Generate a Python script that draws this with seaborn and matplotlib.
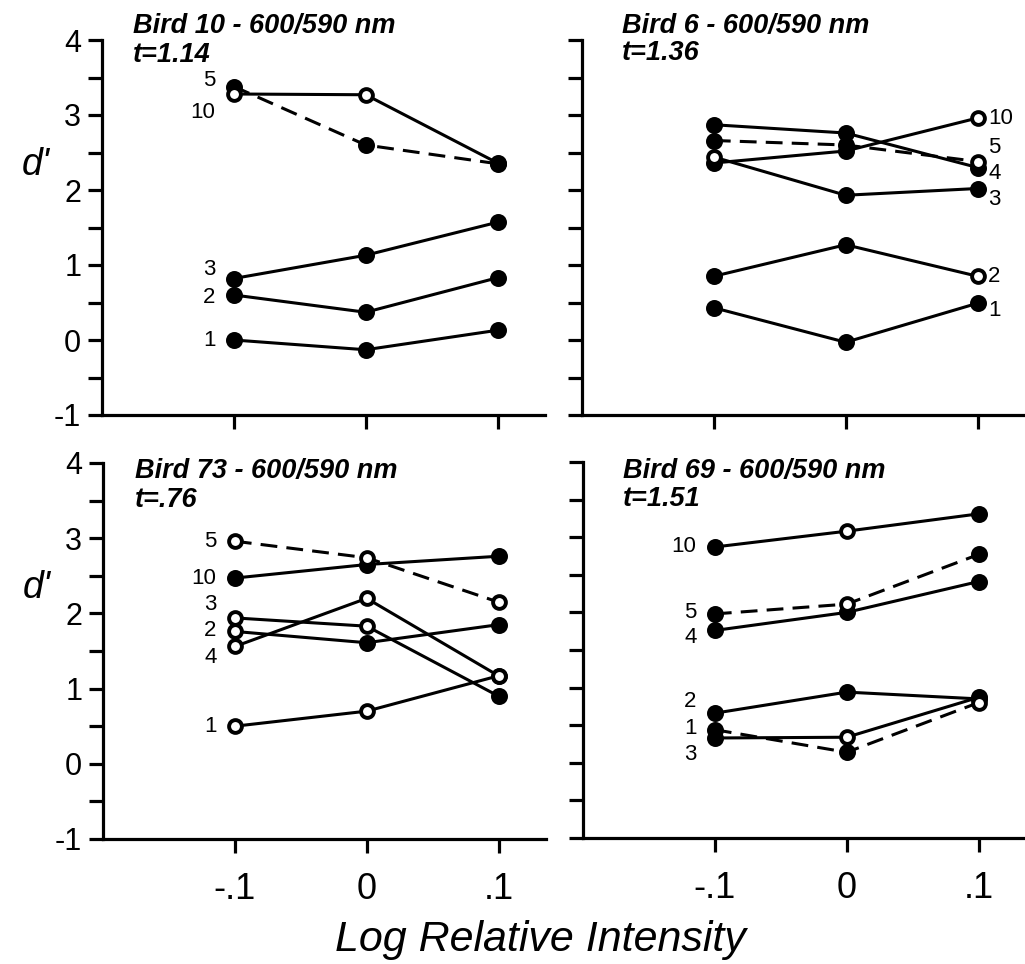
import matplotlib
matplotlib.use("Agg")
import matplotlib.pyplot as plt
import numpy as np
import pandas as pd
import seaborn as sns

# ---- data -------------------------------------------------------------
x_levels = [-0.1, 0.0, 0.1]
x_ticklabels = ["-.1", "0", ".1"]
y_ticks = [-1, 0, 1, 2, 3, 4]
y_ticklabels = ["-1", "0", "1", "2", "3", "4"]

titles = ["Bird 10 - 600/590 nm", "Bird 6 - 600/590 nm",
          "Bird 73 - 600/590 nm", "Bird 69 - 600/590 nm"]
t_values = ["t=1.14", "t=1.36", "t=.76", "t=1.51"]

# d' per session block (1, 2, 3, 4, 5, 10) at the three intensities
bird10 = {"1": [0.00, -0.13, 0.13], "2": [0.60, 0.37, 0.83],
          "3": [0.82, 1.13, 1.57], "5": [3.38, 2.60, 2.35],
          "10": [3.28, 3.27, 2.36]}
bird6 = {"1": [0.43, -0.03, 0.49], "2": [0.85, 1.27, 0.85],
         "3": [2.44, 1.93, 2.02], "4": [2.87, 2.76, 2.30],
         "5": [2.66, 2.60, 2.38], "10": [2.36, 2.52, 2.96]}
bird73 = {"1": [0.50, 0.70, 1.17], "2": [1.76, 1.61, 1.85],
          "3": [1.94, 1.83, 0.90], "4": [1.56, 2.20, 1.17],
          "5": [2.96, 2.74, 2.15], "10": [2.47, 2.65, 2.76]}
bird69 = {"1": [0.44, 0.14, 0.80], "2": [0.66, 0.94, 0.85],
          "3": [0.33, 0.34, 0.87], "4": [1.76, 2.00, 2.41],
          "5": [1.98, 2.11, 2.77], "10": [2.87, 3.08, 3.31]}

# filled (1) or open (0) symbol for each point
bird10_filled = {"1": [1, 1, 1], "2": [1, 1, 1], "3": [1, 1, 1],
                 "5": [1, 1, 1], "10": [0, 0, 1]}
bird6_filled = {"1": [1, 1, 1], "2": [1, 1, 0], "3": [0, 1, 1],
                "4": [1, 1, 1], "5": [1, 1, 0], "10": [1, 1, 0]}
bird73_filled = {"1": [0, 0, 0], "2": [0, 1, 1], "3": [0, 0, 1],
                 "4": [0, 0, 0], "5": [0, 0, 0], "10": [1, 1, 1]}
bird69_filled = {"1": [1, 1, 0], "2": [1, 1, 1], "3": [1, 0, 1],
                 "4": [1, 1, 1], "5": [1, 0, 1], "10": [1, 0, 1]}

dashed_series = [["5"], ["5"], ["5"], ["5", "1"]]

panels = [(bird10, bird10_filled), (bird6, bird6_filled),
          (bird73, bird73_filled), (bird69, bird69_filled)]

# ---- style ------------------------------------------------------------
sns.set_theme(style="ticks")
plt.rcParams["font.family"] = ["Liberation Sans", "DejaVu Sans"]
for key in ["text.color", "axes.labelcolor", "xtick.color", "ytick.color",
            "axes.edgecolor"]:
    plt.rcParams[key] = "black"
plt.rcParams["axes.linewidth"] = 2.3
plt.rcParams["xtick.major.width"] = 2.3
plt.rcParams["ytick.major.width"] = 2.3
plt.rcParams["ytick.minor.width"] = 2.3

W, H = 1025, 964
fig = plt.figure(figsize=(W / 100, H / 100), dpi=100)

# axes rectangles in pixels: left, top, width, height
rects = [(102, 40, 443, 375), (582, 40, 443, 375),
         (103, 463, 443, 376), (583, 462, 443, 376)]

# label placement: side of the series labels and vertical nudges
label_side = ["left", "right", "left", "left"]
label_nudge = [
    {"5": 0.08, "10": -0.25, "3": 0.12, "2": -0.03, "1": 0.0},
    {"10": 0.0, "5": 0.19, "4": -0.08, "3": -0.15, "2": 0.0, "1": -0.1},
    {"5": 0.0, "10": 0.0, "3": 0.18, "2": 0.01, "4": -0.14, "1": 0.0},
    {"10": 0.0, "5": 0.02, "4": -0.1, "2": 0.15, "1": 0.02, "3": -0.22},
]

title_pos = [(0.070, 1.019, 0.941), (0.090, 1.020, 0.947),
             (0.072, 0.960, 0.883), (0.090, 0.957, 0.883)]

for i, ((values, filled), rect) in enumerate(zip(panels, rects)):
    l, t, w, h = rect
    ax = fig.add_axes([l / W, (H - t - h) / H, w / W, h / H])

    rows = []
    for name, ys in values.items():
        for xv, yv, fv in zip(x_levels, ys, filled[name]):
            rows.append({"series": name, "x": xv, "y": yv,
                         "filled": bool(fv),
                         "dashed": name in dashed_series[i]})
    df = pd.DataFrame(rows)

    sns.lineplot(data=df, x="x", y="y", units="series", estimator=None,
                 style="dashed", dashes={False: "", True: (5.5, 3)},
                 color="black", linewidth=2.2, sort=False, legend=False,
                 ax=ax, zorder=2)
    sns.scatterplot(data=df[df["filled"]], x="x", y="y", color="black",
                    edgecolor="black", s=115, linewidth=1.5, legend=False,
                    ax=ax, zorder=3)
    sns.scatterplot(data=df[~df["filled"]], x="x", y="y", color="white",
                    edgecolor="black", s=85, linewidth=2.8, legend=False,
                    ax=ax, zorder=4)

    ax.set_xlim(-0.2, 0.136)
    ax.set_ylim(-1, 4)
    sns.despine(ax=ax)
    ax.set_xticks(x_levels)
    ax.set_yticks(y_ticks)
    ax.set_yticks(np.arange(-0.5, 4, 1.0), minor=True)
    ax.tick_params(axis="both", which="major", length=10, direction="out")
    ax.tick_params(axis="y", which="minor", length=10, direction="out")
    ax.set_xlabel("")
    ax.set_ylabel("")

    if i in (0, 2):
        ax.set_yticklabels(y_ticklabels, fontsize=22)
        ax.tick_params(axis="y", pad=5)
        ax.set_ylabel("d'", rotation=0, fontsize=27, style="italic")
        ax.yaxis.set_label_coords(-0.15, 0.62)
    else:
        ax.set_yticklabels([])
    if i in (2, 3):
        ax.set_xticklabels(x_ticklabels, fontsize=26)
        ax.tick_params(axis="x", pad=14)
    else:
        ax.set_xticklabels([])

    # titles
    tx, ty1, ty2 = title_pos[i]
    for text, ty in ((titles[i], ty1), (t_values[i], ty2)):
        ax.text(tx, ty, text, transform=ax.transAxes, fontsize=19.5,
                style="italic", fontweight="bold", va="baseline",
                ha="left", clip_on=False)

    # series labels beside the end points
    for name, ys in values.items():
        dy = label_nudge[i].get(name, 0.0)
        if label_side[i] == "left":
            ax.text(x_levels[0] - 0.014, ys[0] + dy, name, fontsize=16,
                    ha="right", va="center", clip_on=False)
        else:
            ax.text(x_levels[-1] + 0.008, ys[-1] + dy, name, fontsize=16,
                    ha="left", va="center", clip_on=False)

fig.text(540 / W, 1 - 940 / H, "Log Relative Intensity", fontsize=31,
         style="italic", ha="center", va="center")

fig.savefig("out.png", dpi=100)
